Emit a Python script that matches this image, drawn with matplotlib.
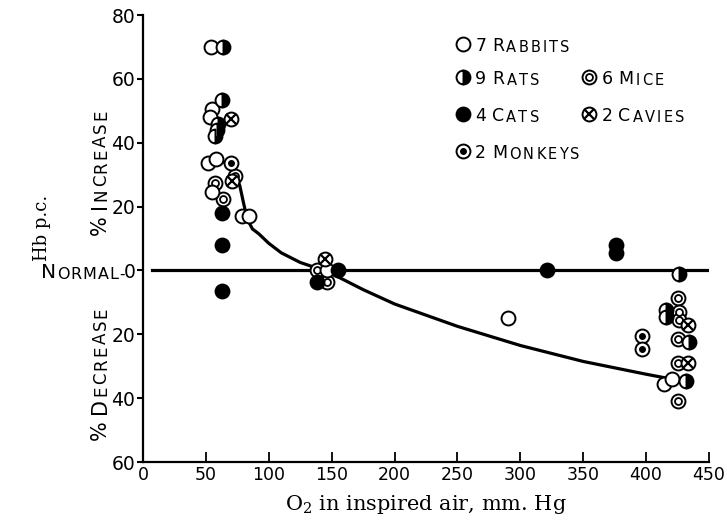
import matplotlib
matplotlib.use("Agg")
import matplotlib.pyplot as plt

plt.rcParams['font.family'] = 'DejaVu Sans'
plt.rcParams['mathtext.fontset'] = 'dejavuserif'

# readings: O2 (mm Hg) vs Hb change (%)
rabbit_x = [54, 55, 53, 52, 58, 55, 79, 84, 146, 290, 414, 421]
rabbit_y = [70, 50.5, 48, 33.5, 35, 24.5, 17, 17, 0, -15, -35.5, -34]
rat_x = [64, 63, 60, 59, 57, 426, 416, 416, 434, 432]
rat_y = [70, 53.5, 46, 44, 42, -1, -12.5, -14.5, -22.5, -34.5]
cat_x = [63, 63, 63, 138, 155, 321, 376, 376]
cat_y = [18, 8, -6.5, -3.5, 0, 0, 8, 5.5]
mouse_x = [57, 64, 73, 138, 146, 425, 426, 426, 425, 425, 425]
mouse_y = [27.5, 22.5, 29.5, 0, -3.5, -8.5, -13, -15.5, -21.5, -29, -41]
cavy_x = [70, 71, 145, 433, 433]
cavy_y = [47.5, 28, 3.5, -17, -29]
monkey_x = [70, 397, 397]
monkey_y = [33.5, -20.5, -24.5]

# hand-drawn curve through the points
curve_x = [58, 64, 69, 73, 77, 80, 83, 87, 92, 100, 110, 125, 140, 150, 175, 200, 250, 300, 350, 400, 420]
curve_y = [33, 34, 33, 30.5, 26.5, 21, 16, 13, 11.5, 8.5, 5.5, 2.5, 0.5, -1, -6, -10.5, -17.5, -23.5, -28.5, -32.5, -34]
normal_x = [7, 450]
normal_y = [0, 0]

xticks = [0, 50, 100, 150, 200, 250, 300, 350, 400, 450]
yticks = [80, 60, 40, 20, 0, -20, -40, -60]
ytick_labels = ['80', '60', '40', '20', '0', '20', '40', '60']

fig = plt.figure(figsize=(7.27, 5.23), dpi=100)
ax = fig.add_axes([0.1967, 0.1166, 0.7785, 0.8547])

ax.plot(normal_x, normal_y, color='black', lw=2.3, zorder=2)
ax.plot(curve_x, curve_y, color='black', lw=2.3, zorder=2)

ms = 10
mew = 1.4


def draw_key(kind, x, y, transform):
    kw = dict(ls='none', zorder=4, transform=transform, clip_on=False)
    if kind == 'rabbit':
        ax.plot(x, y, 'o', ms=ms, mfc='white', mec='black', mew=mew, **kw)
    elif kind == 'rat':
        ax.plot(x, y, 'o', ms=ms, mfc='black', markerfacecoloralt='white', fillstyle='right',
                mec='black', mew=mew, **kw)
    elif kind == 'cat':
        ax.plot(x, y, 'o', ms=ms, mfc='black', mec='black', mew=mew, **kw)
    elif kind == 'mouse':
        ax.plot(x, y, 'o', ms=ms, mfc='white', mec='black', mew=mew, **kw)
        ax.plot(x, y, 'o', ms=5, mfc='white', mec='black', mew=1.3, **kw)
    elif kind == 'cavy':
        ax.plot(x, y, 'o', ms=ms, mfc='white', mec='black', mew=mew, **kw)
        ax.plot(x, y, 'x', ms=6.5, mec='black', mew=1.6, **kw)
    elif kind == 'monkey':
        ax.plot(x, y, 'o', ms=ms, mfc='white', mec='black', mew=mew, **kw)
        ax.plot(x, y, 'o', ms=4, mfc='black', mec='black', mew=1, **kw)


# data points
for kind, xs, ys in [('mouse', mouse_x, mouse_y), ('rabbit', rabbit_x, rabbit_y),
                     ('rat', rat_x, rat_y), ('cat', cat_x, cat_y),
                     ('cavy', cavy_x, cavy_y), ('monkey', monkey_x, monkey_y)]:
    draw_key(kind, xs, ys, ax.transData)


def smallcaps(x, y, parts, transform, rotation=0, track=1.0, space=4.0,
              ha='left', va='center_baseline'):
    # parts = list of (text, fontsize); letters chained one by one, wide spacing like the print
    chars = [(c, fs) for s, fs in parts for c in s]
    prev = None
    gap = track
    for c, fs in chars:
        if c == ' ':
            gap = track + space
            continue
        if prev is None:
            prev = ax.text(x, y, c, fontsize=fs, transform=transform, rotation=rotation,
                           ha=ha, va=va, clip_on=False)
        elif rotation == 0:
            prev = ax.annotate(c, xy=(1, 0), xycoords=prev, xytext=(gap, 0),
                               textcoords='offset points', ha='left', va='bottom', fontsize=fs)
        else:
            prev = ax.annotate(c, xy=(1, 1), xycoords=prev, xytext=(0, gap),
                               textcoords='offset points', ha='right', va='bottom',
                               fontsize=fs, rotation=90)
        gap = track


# legend, drawn by hand in axes fraction
big, small = 12.5, 10.5
legend = [('rabbit', 0.565, 0.935, [('7 R', big), ('ABBITS', small)]),
          ('rat', 0.565, 0.861, [('9 R', big), ('ATS', small)]),
          ('mouse', 0.788, 0.861, [('6 M', big), ('ICE', small)]),
          ('cat', 0.565, 0.779, [('4 C', big), ('ATS', small)]),
          ('cavy', 0.788, 0.779, [('2 C', big), ('AVIES', small)]),
          ('monkey', 0.565, 0.696, [('2 M', big), ('ONKEYS', small)])]
for kind, lx, ly, parts in legend:
    draw_key(kind, [lx], [ly], ax.transAxes)
    smallcaps(lx + 0.022, ly, parts, ax.transAxes, track=1.6, space=2.5)

# side labels
smallcaps(-0.18, 60 / 140, [('N', 14.5), ('ORMAL', 11.5), ('-', 11)],
          ax.transAxes, track=0.7)
smallcaps(-0.058, 0.508, [('% I', 15), ('NCREASE', 12)], ax.transAxes, rotation=90,
          track=1.5, space=3.0, ha='right', va='bottom')
smallcaps(-0.058, 0.049, [('% D', 15), ('ECREASE', 12)], ax.transAxes, rotation=90,
          track=1.5, space=3.0, ha='right', va='bottom')

fig.text(0.058, 0.564, 'Hb p.c.', rotation=90, ha='center', va='center',
         fontsize=13, family='DejaVu Serif')
ax.set_xlabel(r'O$_2$ in inspired air, mm. Hg', fontsize=15, family='DejaVu Serif', labelpad=6)

ax.set_xlim(0, 450)
ax.set_ylim(-60, 80)
ax.set_xticks(xticks)
ax.set_yticks(yticks)
ax.set_yticklabels(ytick_labels)
ax.tick_params(axis='y', direction='out', length=4.5, width=1.5, labelsize=13.5, pad=1)
ax.tick_params(axis='x', direction='in', length=7, width=1.3, labelsize=12.5, pad=3)
for side in ['top', 'right']:
    ax.spines[side].set_visible(False)
for side in ['left', 'bottom']:
    ax.spines[side].set_linewidth(1.6)

fig.savefig('out.png', dpi=100)
